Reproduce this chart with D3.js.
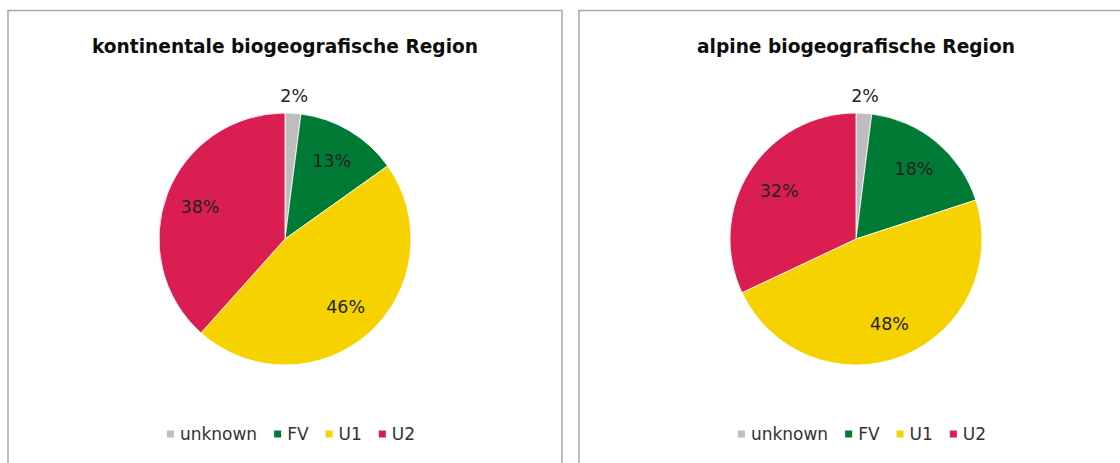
<!DOCTYPE html>
<html><head><meta charset="utf-8">
<script src="https://cdn.jsdelivr.net/npm/d3@7"></script>
<style>body{margin:0;background:#fff}svg{display:block}</style>
</head><body>
<svg id="c" width="1120" height="463"></svg>
<script>
const categories = ["unknown", "FV", "U1", "U2"];
const colors = ["#BFBDBD", "#007A35", "#F5D200", "#DB1E52"];
const titles = ["kontinentale biogeografische Region", "alpine biogeografische Region"];
const kontinentalValues = [2, 13, 46, 38];
const alpineValues = [2, 18, 48, 32];
const seriesList = [kontinentalValues, alpineValues];

const svg = d3.select("#c");
const font = "DejaVu Sans";
const panelW = 554, panelTop = 10.5, panelLefts = [8, 579];
const R = 126, cy = 239;

seriesList.forEach((vals, i) => {
  const x0 = panelLefts[i];
  const cx = x0 + panelW / 2;
  const g = svg.append("g");
  g.append("path")
    .attr("d", `M${x0},470 V${panelTop} H${x0 + panelW} V470`)
    .attr("fill", "none").attr("stroke", "#A6A6A6").attr("stroke-width", 1.5);

  g.append("text").attr("x", cx).attr("y", 53)
    .attr("text-anchor", "middle").attr("font-family", font)
    .attr("font-weight", "bold").attr("font-size", 18.6).attr("fill", "#0d0d0d")
    .text(titles[i]);

  const data = categories.map((c, k) => ({ c, v: vals[k], col: colors[k] }));
  const pie = d3.pie().value(d => d.v).sort(null);
  const arcs = pie(data);
  const arc = d3.arc().innerRadius(0).outerRadius(R);
  const pg = g.append("g").attr("transform", `translate(${cx},${cy})`);
  pg.selectAll("path").data(arcs).join("path")
    .attr("d", arc).attr("fill", d => d.data.col)
    .attr("stroke", "#fff").attr("stroke-width", 0.8);

  const total = d3.sum(vals);
  pg.selectAll("text").data(arcs).join("text")
    .attr("transform", d => {
      const a = (d.startAngle + d.endAngle) / 2;
      const r = (d.data.v / total < 0.05) ? 144 : 91;
      return `translate(${r * Math.sin(a)},${-r * Math.cos(a)})`;
    })
    .attr("text-anchor", "middle").attr("dy", "0.36em")
    .attr("font-family", font).attr("font-size", 17.5).attr("fill", "#222")
    .text(d => Math.round(d.data.v / total * 100) + "%");

  const lg = g.append("g");
  const items = lg.selectAll("g").data(data).join("g");
  items.append("rect").attr("width", 7).attr("height", 7).attr("y", -9.5)
    .attr("fill", d => d.col);
  const texts = items.append("text").attr("x", 13).attr("y", 0)
    .attr("font-family", font).attr("font-size", 17).attr("fill", "#333")
    .text(d => d.c);
  let x = 0;
  const gap = 17;
  items.each(function (d, k) {
    const w = 13 + texts.nodes()[k].getComputedTextLength();
    d3.select(this).attr("transform", `translate(${x},0)`);
    x += w + gap;
  });
  const totalW = x - gap;
  lg.attr("transform", `translate(${cx + 6 - totalW / 2},440)`);
});
</script>
</body></html>
